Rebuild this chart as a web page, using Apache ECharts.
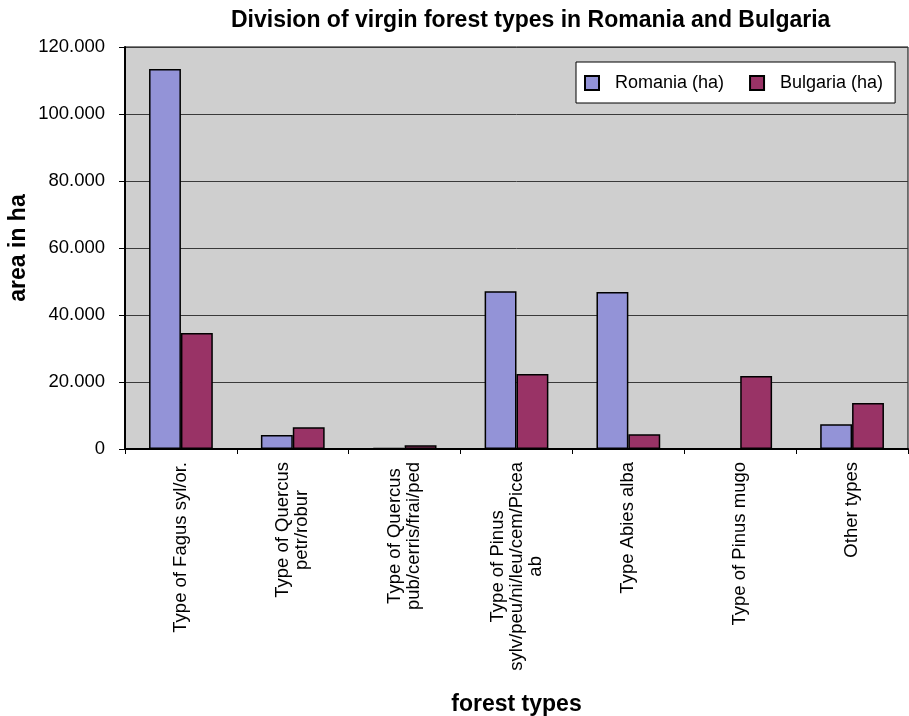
<!DOCTYPE html>
<html>
<head>
<meta charset="utf-8">
<script src="https://cdn.jsdelivr.net/npm/echarts@6/dist/echarts.min.js"></script>
<style>
  html, body { margin: 0; padding: 0; background: #fff; }
  #chart { width: 909px; height: 716px; }
</style>
</head>
<body>
<div id="chart"></div>
<script>
const FONT = '"Liberation Sans", Arial, sans-serif';

const categories = [
  'Type of Fagus syl/or.',
  'Type of Quercus\npetr/robur',
  'Type of Quercus\npub/cerris/frai/ped',
  'Type of Pinus\nsylv/peu/ni/leu/cem/Picea\nab',
  'Type Abies alba',
  'Type of Pinus mugo',
  'Other types',
];
const romania = [113400, 4200, 300, 47100, 46900, 0, 7400];
const bulgaria = [34600, 6500, 1100, 22400, 4400, 21800, 13700];
const seriesNames = ['Romania (ha)', 'Bulgaria (ha)'];

// thousands with a dot, like 120.000
const fmtNum = (v) => String(v).replace(/\B(?=(\d{3})+(?!\d))/g, '.');

const chart = echarts.init(document.getElementById('chart'));

const option = {
  animation: false,
  backgroundColor: '#fff',
  title: {
    text: 'Division of virgin forest types in Romania and Bulgaria',
    left: 231,
    top: 9,
    padding: 0,
    textStyle: { fontFamily: FONT, fontSize: 23, fontWeight: 'bold', color: '#000' },
  },
  legend: {
    data: seriesNames,
    left: 576,
    top: 62,
    padding: [12, 12, 11, 8],
    itemGap: 25,
    itemWidth: 14,
    itemHeight: 14,
    icon: 'rect',
    backgroundColor: '#fff',
    borderColor: '#000',
    borderWidth: 1,
    textStyle: { fontFamily: FONT, fontSize: 18, color: '#000', padding: [0, 0, 0, 11] },
  },
  grid: {
    left: 125,
    top: 47,
    right: 1,
    bottom: 267,
    outerBoundsMode: 'none',
    show: true,
    backgroundColor: '#cfcfcf',
    borderColor: '#000',
    borderWidth: 1,
  },
  xAxis: {
    type: 'category',
    data: categories,
    name: 'forest types',
    nameLocation: 'middle',
    nameGap: 244,
    nameMoveOverlap: false,
    nameTextStyle: { fontFamily: FONT, fontSize: 23, fontWeight: 'bold', color: '#000' },
    axisLine: { lineStyle: { color: '#000', width: 2 } },
    axisTick: { show: true, length: 5, lineStyle: { color: '#000' } },
    axisLabel: {
      rotate: 90,
      margin: 13,
      interval: 0,
      formatter: (v) => v.split('\n').map((s) => '{c|' + s + '}').join('\n'),
      rich: {
        c: { align: 'center', fontFamily: FONT, fontSize: 18.5, color: '#000', lineHeight: 19 },
      },
    },
  },
  yAxis: {
    type: 'value',
    min: 0,
    max: 120000,
    interval: 20000,
    name: 'area in ha',
    nameLocation: 'middle',
    nameGap: 95,
    nameMoveOverlap: false,
    nameTextStyle: { fontFamily: FONT, fontSize: 23, fontWeight: 'bold', color: '#000' },
    axisLine: { show: true, lineStyle: { color: '#000', width: 2 } },
    axisTick: { show: true, length: 6, lineStyle: { color: '#000' } },
    axisLabel: {
      margin: 20,
      fontFamily: FONT,
      fontSize: 18.5,
      color: '#000',
      formatter: fmtNum,
    },
    splitLine: { lineStyle: { color: '#3a3a3a', width: 1 } },
  },
  series: [
    {
      name: seriesNames[0],
      type: 'bar',
      data: romania,
      barGap: '0%',
      barCategoryGap: '43%',
      itemStyle: { color: '#9393d7', borderColor: '#000', borderWidth: 1.5 },
    },
    {
      name: seriesNames[1],
      type: 'bar',
      data: bulgaria,
      barGap: '0%',
      barCategoryGap: '43%',
      itemStyle: { color: '#993366', borderColor: '#000', borderWidth: 1.5 },
    },
  ],
};

chart.setOption(option);
</script>
</body>
</html>
